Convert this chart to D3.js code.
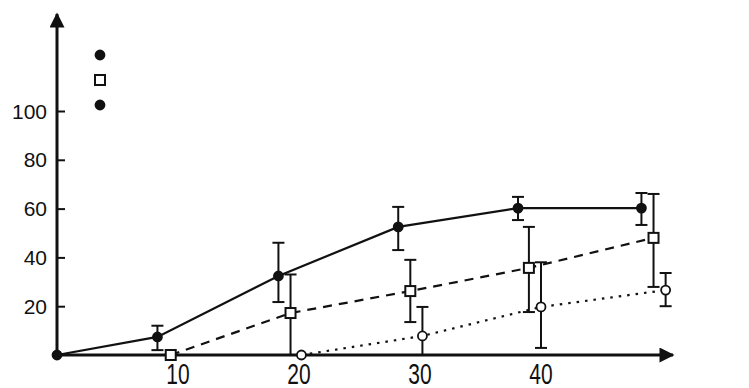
<!DOCTYPE html>
<html>
<head>
<meta charset="utf-8">
<script src="https://cdn.jsdelivr.net/npm/d3@7"></script>
<style>
body { margin: 0; background: #fff; }
svg { display: block; }
text { font-family: "Liberation Sans", Arial, sans-serif; font-size: 21px; fill: #111; }
</style>
</head>
<body>
<svg width="749" height="388"></svg>
<script>
// values
const xTicks = [10, 20, 30, 40];
const yTicks = [20, 40, 60, 80, 100];

// filled circles, solid line
const solidX = [0, 8.3, 18.3, 28.2, 38.1, 48.3];
const solidY = [0, 7.4, 32.4, 52.5, 60.2, 60.2];
const solidLo = [null, 2, 21.7, 43, 55.3, 53.3];
const solidHi = [null, 12, 46, 60.7, 64.8, 66.4];

// open squares, dashed line
const squareX = [9.4, 19.3, 29.2, 39, 49.3];
const squareY = [0, 17.2, 26.2, 35.7, 48];
const squareLo = [null, 0, 13.5, 17.6, 27.9];
const squareHi = [null, 33, 39, 52.5, 66];

// open circles, dotted line
const openX = [20.2, 30.2, 40, 50.3];
const openY = [0, 7.8, 19.7, 26.6];
const openLo = [null, 0, 2.9, 20];
const openHi = [null, 19.7, 38, 33.6];

const legendMarks = ['dot', 'square', 'dot'];

const svg = d3.select('svg');
const x = d3.scaleLinear().domain([0, 40]).range([57, 541]);
const y = d3.scaleLinear().domain([0, 100]).range([355, 111]);

// arrow head
svg.append('defs').append('marker')
	.attr('id', 'arrow')
	.attr('viewBox', '0 0 10 10')
	.attr('refX', 9).attr('refY', 5)
	.attr('markerWidth', 6).attr('markerHeight', 5)
	.attr('markerUnits', 'strokeWidth')
	.attr('orient', 'auto')
	.append('path')
	.attr('d', 'M0,0L10,5L0,10Z')
	.attr('fill', '#111');

// axes
const yAxis = svg.append('g')
	.attr('transform', `translate(${x(0)},0)`)
	.call(d3.axisRight(y).tickValues(yTicks).tickSize(8).tickFormat(''));
yAxis.select('.domain').remove();
yAxis.selectAll('line').attr('stroke', '#111').attr('stroke-width', 2);

svg.selectAll('.ylab')
	.data(yTicks)
	.join('text')
	.attr('class', 'ylab')
	.attr('x', x(0) - 10)
	.attr('y', d => y(d))
	.attr('dy', '0.36em')
	.attr('text-anchor', 'end')
	.text(d => d);

// x labels look taller in the scan, stretch them a little
svg.selectAll('.xlab')
	.data(xTicks)
	.join('text')
	.attr('class', 'xlab')
	.attr('text-anchor', 'middle')
	.attr('transform', d => `translate(${x(d)},384) scale(1,1.38)`)
	.text(d => d);

svg.append('line')
	.attr('x1', x(0)).attr('y1', y(0) + 1)
	.attr('x2', x(0)).attr('y2', 14)
	.attr('stroke', '#111').attr('stroke-width', 3)
	.attr('marker-end', 'url(#arrow)');

svg.append('line')
	.attr('x1', x(0) - 1).attr('y1', y(0))
	.attr('x2', 673).attr('y2', y(0))
	.attr('stroke', '#111').attr('stroke-width', 3)
	.attr('marker-end', 'url(#arrow)');

const line = d3.line().x(d => x(d[0])).y(d => y(d[1]));

const drawSeries = (xs, ys, lo, hi, dash, mark) => {
	const pts = xs.map((v, i) => [v, ys[i]]);
	svg.append('path')
		.attr('d', line(pts))
		.attr('fill', 'none')
		.attr('stroke', '#111')
		.attr('stroke-width', 2.2)
		.attr('stroke-dasharray', dash);

	const bars = pts.map((p, i) => ({ x: p[0], lo: lo[i], hi: hi[i] })).filter(d => d.lo !== null);
	const g = svg.append('g').attr('stroke', '#111').attr('stroke-width', 2);
	g.selectAll('.bar').data(bars).join('line')
		.attr('x1', d => x(d.x)).attr('x2', d => x(d.x))
		.attr('y1', d => y(d.lo)).attr('y2', d => y(d.hi));
	g.selectAll('.capHi').data(bars).join('line')
		.attr('x1', d => x(d.x) - 6).attr('x2', d => x(d.x) + 6)
		.attr('y1', d => y(d.hi)).attr('y2', d => y(d.hi));
	g.selectAll('.capLo').data(bars.filter(d => d.lo > 0)).join('line')
		.attr('x1', d => x(d.x) - 6).attr('x2', d => x(d.x) + 6)
		.attr('y1', d => y(d.lo)).attr('y2', d => y(d.lo));

	drawMarks(svg.append('g'), pts.map(p => [x(p[0]), y(p[1])]), mark);
};

const drawMarks = (g, coords, mark) => {
	if (mark === 'square') {
		g.selectAll('rect').data(coords).join('rect')
			.attr('x', d => d[0] - 5).attr('y', d => d[1] - 5)
			.attr('width', 10).attr('height', 10)
			.attr('fill', '#fff').attr('stroke', '#111').attr('stroke-width', 2);
	} else {
		g.selectAll('circle').data(coords).join('circle')
			.attr('cx', d => d[0]).attr('cy', d => d[1])
			.attr('r', 4.5)
			.attr('fill', mark === 'dot' ? '#111' : '#fff')
			.attr('stroke', '#111').attr('stroke-width', 1.8);
	}
};

drawSeries(solidX, solidY, solidLo, solidHi, null, 'dot');
drawSeries(squareX, squareY, squareLo, squareHi, '9,7', 'square');
drawSeries(openX, openY, openLo, openHi, '2.5,6', 'open');

// legend markers (no text visible)
legendMarks.forEach((m, i) => {
	drawMarks(svg.append('g'), [[100, 55 + i * 25]], m);
});
</script>
</body>
</html>
